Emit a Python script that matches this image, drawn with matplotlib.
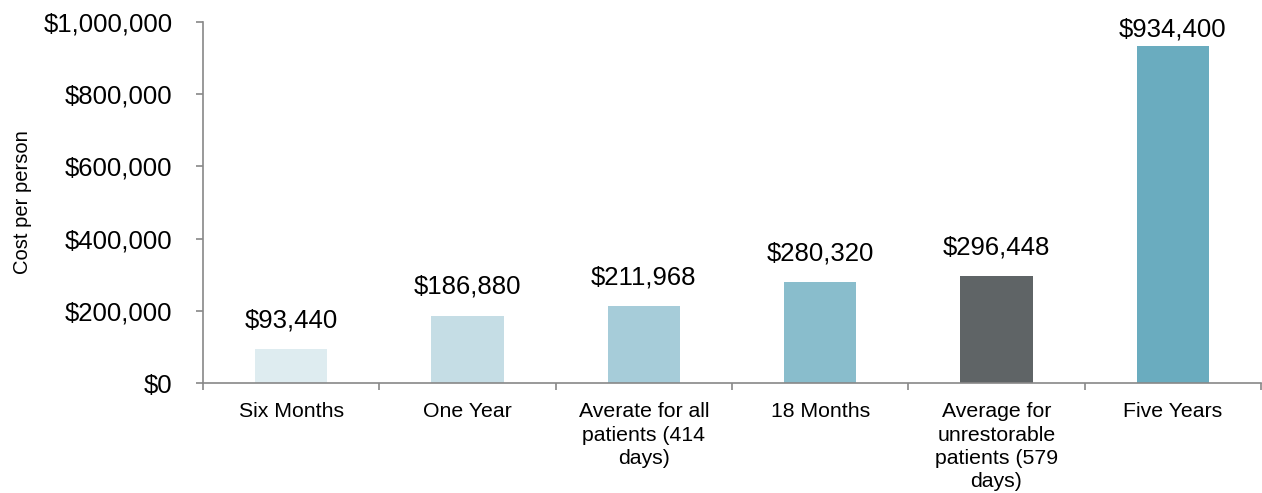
import matplotlib.pyplot as plt
from matplotlib.ticker import FuncFormatter, FixedLocator
import numpy as np

plt.rcParams['font.family'] = ['Liberation Sans', 'DejaVu Sans']

categories = ["Six Months", "One Year", "Averate for all\npatients (414\ndays)", "18 Months",
              "Average for\nunrestorable\npatients (579\ndays)", "Five Years"]
costs = [93440, 186880, 211968, 280320, 296448, 934400]
colors = ["#DEECF0", "#C5DDE5", "#A6CCD9", "#89BDCC", "#5F6466", "#6AACBF"]

YMAX = 1000000

fig = plt.figure(figsize=(12.62, 4.93), dpi=100)
ax = fig.add_axes([0.1609, 0.2231, 0.8383, 0.7323])

x = np.arange(len(categories))
bars = ax.bar(x, costs, width=0.41, color=colors)

# label sits above the bar, pushed down when it would run past the top
for b, v in zip(bars, costs):
    off = 12 if v < 0.9 * YMAX else 3
    ax.annotate("${:,}".format(v), (b.get_x() + b.get_width() / 2, v),
                xytext=(0, off), textcoords="offset points",
                ha="center", va="bottom", fontsize=18.5)

ax.set_xlim(-0.5, len(categories) - 0.5)
ax.set_ylim(0, YMAX)
ax.set_yticks(np.arange(0, YMAX + 1, 200000))
ax.yaxis.set_major_formatter(FuncFormatter(lambda v, p: "${:,.0f}".format(v)))
ax.tick_params(axis="y", labelsize=18.5, length=5, width=1.2, color="#888888", pad=17)

# category labels between boundary ticks
ax.xaxis.set_major_locator(FixedLocator(np.arange(-0.5, len(categories), 1)))
ax.set_xticklabels([])
ax.xaxis.set_minor_locator(FixedLocator(x))
ax.set_xticklabels(categories, minor=True, fontsize=15.3, linespacing=1.28)
ax.tick_params(axis="x", which="major", length=5, width=1.2, color="#888888")
ax.tick_params(axis="x", which="minor", length=0, pad=14)

ax.set_ylabel("Cost per person", fontsize=14.5, labelpad=8)

for s in ["top", "right"]:
    ax.spines[s].set_visible(False)
for s in ["left", "bottom"]:
    ax.spines[s].set_color("#888888")
    ax.spines[s].set_linewidth(1.2)

fig.savefig("out.png", dpi=100)
